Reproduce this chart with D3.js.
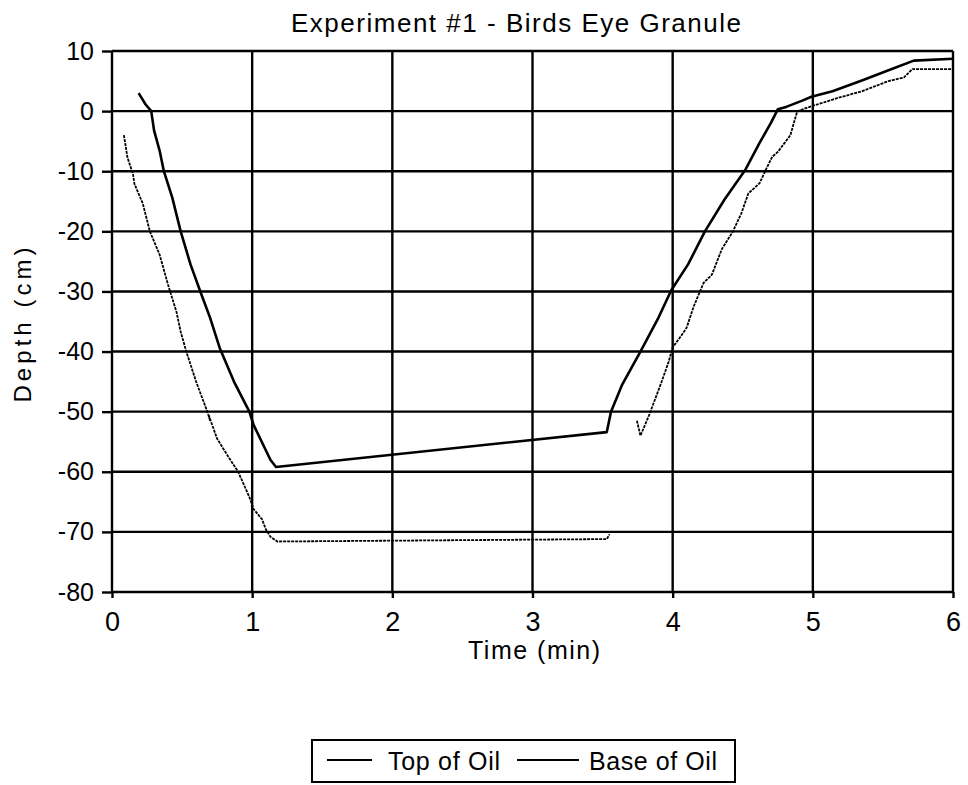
<!DOCTYPE html>
<html>
<head>
<meta charset="utf-8">
<script src="https://cdn.jsdelivr.net/npm/d3@7"></script>
<style>
  body { margin: 0; background: #fff; }
  svg { display: block; font-family: "Liberation Sans", Arial, sans-serif; }
</style>
</head>
<body>
<div id="chart"></div>
<script>
// Top of Oil (time in min, depth in cm)
const topTime = [0.19, 0.24, 0.28, 0.30, 0.34, 0.37, 0.43, 0.49, 0.56, 0.63, 0.70, 0.77, 0.87, 0.98, 1.01, 1.13, 1.17,
  3.53, 3.56, 3.64, 3.77, 3.90, 3.99, 4.11, 4.23, 4.37, 4.52, 4.62, 4.70, 4.75, 4.81, 4.92, 4.99, 5.14, 5.35, 5.54, 5.72, 6.0];
const topDepth = [3, 1.1, 0, -3.2, -6.6, -10, -14.4, -20, -25.5, -30, -34.4, -39.5, -45, -50, -52.2, -58, -59.2,
  -53.4, -50, -45.5, -40, -34.3, -29.8, -25.5, -20, -14.7, -9.7, -5.3, -2, 0.3, 0.7, 1.7, 2.4, 3.3, 5.1, 6.8, 8.4, 8.7];

// Base of Oil, null marks the gap in the record
const baseTime = [0.085, 0.11, 0.15, 0.16, 0.22, 0.27, 0.34, 0.40, 0.46, 0.49, 0.53, 0.60, 0.68, 0.70, 0.69, 0.75, 0.83, 0.90,
  0.98, 1.01, 1.07, 1.10, 1.13, 1.18, 3.53, 3.55, null,
  3.745, 3.77, 3.83, 3.92, 3.97, 4.00, 4.06, 4.10, 4.15, 4.22, 4.28, 4.35, 4.43, 4.49, 4.54, 4.62, 4.67, 4.71, 4.75,
  4.84, 4.87, 4.89, 4.99, 5.18, 5.35, 5.54, 5.65, 5.71, 6.0];
const baseDepth = [-4, -7.7, -10.5, -12.1, -15.4, -20, -23.9, -28.9, -33.4, -36.7, -40, -45, -50, -51.5, -50.6, -54.5, -57.5, -60,
  -64.2, -66.2, -67.9, -69.7, -70.8, -71.6, -71.2, -70.4, null,
  -51.5, -54, -50.7, -45.1, -41.8, -39.3, -37.4, -36, -32.5, -28.6, -27.2, -23, -20, -17, -13.7, -12, -9.5, -7.6, -6.8,
  -4, -1.5, 0, 0.8, 2.2, 3.3, 5, 5.6, 7, 7];

const xTicks = [0, 1, 2, 3, 4, 5, 6];
const yTicks = [10, 0, -10, -20, -30, -40, -50, -60, -70, -80];
const yTickLabels = ['10', '0', '-10', '-20', '-30', '-40', '-50', '-60', '-70', '-80'];
const seriesNames = ['Top of Oil', 'Base of Oil'];

const width = 968, height = 785;
const x = d3.scaleLinear().domain([0, 6]).range([112, 953]);
const y = d3.scaleLinear().domain([-80, 10]).range([592, 51]);

const svg = d3.select('#chart').append('svg')
  .attr('width', width)
  .attr('height', height);

// grid
const grid = svg.append('g').attr('stroke', '#000').attr('stroke-width', 2.4);
grid.selectAll('line.h').data(yTicks).join('line')
  .attr('class', 'h')
  .attr('x1', x(0)).attr('x2', x(6))
  .attr('y1', d => y(d)).attr('y2', d => y(d));
grid.selectAll('line.v').data(xTicks).join('line')
  .attr('class', 'v')
  .attr('x1', d => x(d)).attr('x2', d => x(d))
  .attr('y1', y(10)).attr('y2', y(-80));

// axes
const yAxis = svg.append('g')
  .attr('transform', `translate(${x(0)},0)`)
  .call(d3.axisLeft(y).tickValues(yTicks).tickSize(10).tickPadding(8)
    .tickFormat((d, i) => yTickLabels[i]));
yAxis.select('.domain').remove();
yAxis.selectAll('line').attr('stroke-width', 2.4);
yAxis.selectAll('text').attr('font-size', 25).attr('fill', '#000').attr('font-family', null);

const xAxis = svg.append('g')
  .attr('transform', `translate(0,${y(-80)})`)
  .call(d3.axisBottom(x).tickValues(xTicks).tickSize(6).tickPadding(14).tickFormat(d3.format('d')));
xAxis.select('.domain').remove();
xAxis.selectAll('line').attr('stroke-width', 2.4);
xAxis.selectAll('text').attr('font-size', 27).attr('fill', '#000').attr('font-family', null);

// series
const line = d3.line()
  .defined(d => d[0] !== null)
  .x(d => x(d[0]))
  .y(d => y(d[1]));

svg.append('path')
  .datum(topTime.map((t, i) => [t, topDepth[i]]))
  .attr('fill', 'none')
  .attr('stroke', '#000')
  .attr('stroke-width', 2.6)
  .attr('stroke-linejoin', 'round')
  .attr('d', line);

svg.append('path')
  .datum(baseTime.map((t, i) => [t, baseDepth[i]]))
  .attr('fill', 'none')
  .attr('stroke', '#000')
  .attr('stroke-width', 1.8)
  .attr('stroke-dasharray', '3,1')
  .attr('d', line);

// titles
svg.append('text')
  .attr('x', 516).attr('y', 32)
  .attr('text-anchor', 'middle')
  .attr('font-size', 26)
  .attr('textLength', 450)
  .attr('lengthAdjust', 'spacing')
  .text('Experiment #1 - Birds Eye Granule');

svg.append('text')
  .attr('x', 534).attr('y', 659)
  .attr('text-anchor', 'middle')
  .attr('font-size', 25)
  .attr('textLength', 132)
  .attr('lengthAdjust', 'spacing')
  .text('Time (min)');

svg.append('text')
  .attr('transform', 'translate(31,325) rotate(-90)')
  .attr('text-anchor', 'middle')
  .attr('font-size', 24)
  .attr('textLength', 155)
  .attr('lengthAdjust', 'spacing')
  .text('Depth (cm)');

// legend
const legend = svg.append('g');
legend.append('rect')
  .attr('x', 312).attr('y', 740)
  .attr('width', 423).attr('height', 42)
  .attr('fill', 'none')
  .attr('stroke', '#000')
  .attr('stroke-width', 2);

const legendItems = [
  { name: seriesNames[0], x1: 327, x2: 372, tx: 388, len: 112 },
  { name: seriesNames[1], x1: 517, x2: 579, tx: 589, len: 128 }
];
legend.selectAll('line').data(legendItems).join('line')
  .attr('x1', d => d.x1).attr('x2', d => d.x2)
  .attr('y1', 760).attr('y2', 760)
  .attr('stroke', '#000')
  .attr('stroke-width', 2);
legend.selectAll('text').data(legendItems).join('text')
  .attr('x', d => d.tx).attr('y', 770)
  .attr('font-size', 25)
  .attr('textLength', d => d.len)
  .attr('lengthAdjust', 'spacing')
  .text(d => d.name);
</script>
</body>
</html>
